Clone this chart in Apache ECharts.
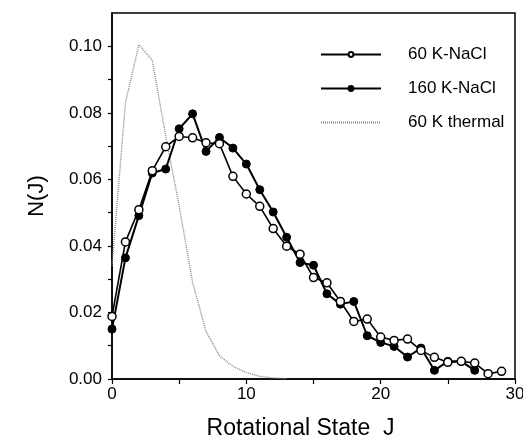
<!DOCTYPE html>
<html>
<head>
<meta charset="utf-8">
<script src="https://cdn.jsdelivr.net/npm/echarts@6/dist/echarts.min.js"></script>
<style>
    html, body {margin: 0; padding: 0; background: #fff;}
    #chart {width: 523px; height: 439px;}
</style>
</head>
<body>
<div id="chart"></div>
<script>
// N(J) values
var jNaCl60 = [0,1,2,3,4,5,6,7,8,9,10,11,12,13,14,15,16,17,18,19,20,21,22,23,24,25,26,27,28,29];
var nNaCl60 = [0.0188,0.0412,0.0509,0.0626,0.0698,0.0729,0.0725,0.0710,0.0707,0.0609,0.0556,0.0519,0.0452,0.0399,0.0375,
    0.0305,0.0289,0.0233,0.0173,0.0180,0.0126,0.0116,0.0120,0.0086,0.0065,0.0050,0.0053,0.0048,0.0016,0.0023];

var jNaCl160 = [0,1,2,3,4,5,6,7,8,9,10,11,12,13,14,15,16,17,18,19,20,21,22,23,24,25,26,27];
var nNaCl160 = [0.0150,0.0364,0.0491,0.0619,0.0631,0.0752,0.0797,0.0684,0.0726,0.0694,0.0646,0.0569,0.0502,0.0426,0.0350,
    0.0342,0.0256,0.0225,0.0233,0.0130,0.0110,0.0098,0.0066,0.0093,0.0026,0.0053,0.0053,0.0026];

var jThermal = [0,1,2,3,4,5,6,7,8,9,10,11,12,13];
var nThermal = [0.034,0.083,0.1005,0.0958,0.073,0.052,0.029,0.0143,0.0070,0.0038,0.0019,0.0008,0.0003,0.0001];

var yTicks = [0.00,0.02,0.04,0.06,0.08,0.10];

function pairs(xs, ys) {
    var out = [];
    for (var i = 0; i < xs.length; i++) {
        out.push([xs[i], ys[i]]);
    }
    return out;
}

var chart = echarts.init(document.getElementById('chart'));
var font = 'Liberation Sans';

var option = {
    backgroundColor: '#fff',
    animation: false,
    grid: {
        left: 112, right: 8, top: 13, bottom: 60,
        outerBoundsMode: 'none',
        show: true,
        borderColor: '#000',
        borderWidth: 1.5
    },
    legend: {
        orient: 'vertical',
        left: 315,
        top: 41,
        itemWidth: 60,
        itemHeight: 6,
        itemGap: 17,
        textStyle: {fontFamily: font, fontSize: 17, color: '#000', padding: [0, 0, 0, 22]},
        data: [
            '60 K-NaCl',
            '160 K-NaCl',
            {name: '60 K thermal', itemStyle: {opacity: 0}}
        ]
    },
    xAxis: {
        type: 'value',
        min: 0, max: 30, interval: 5,
        name: 'Rotational State  J',
        nameLocation: 'middle',
        nameGap: 38,
        nameTextStyle: {fontFamily: font, fontSize: 23, color: '#000', padding: [0, 26, 0, 0]},
        axisLine: {lineStyle: {color: '#000', width: 1.5}},
        axisTick: {length: 5, lineStyle: {color: '#000', width: 1.2}},
        axisLabel: {
            fontFamily: font, fontSize: 17, color: '#000', margin: 7,
            formatter: function (v) { return v % 10 === 0 ? String(v) : ''; }
        },
        splitLine: {show: false}
    },
    yAxis: {
        type: 'value',
        min: 0, max: 0.11, interval: 0.01,
        name: 'N(J)',
        nameLocation: 'middle',
        nameGap: 64,
        nameTextStyle: {fontFamily: font, fontSize: 22, color: '#000'},
        axisLine: {lineStyle: {color: '#000', width: 1.5}},
        axisTick: {length: 4, lineStyle: {color: '#000', width: 1.2}},
        axisLabel: {
            fontFamily: font, fontSize: 17, color: '#000', margin: 10,
            showMaxLabel: false,
            formatter: function (v) {
                for (var i = 0; i < yTicks.length; i++) {
                    if (Math.abs(v - yTicks[i]) < 1e-6) return yTicks[i].toFixed(2);
                }
                return '';
            }
        },
        splitLine: {show: false}
    },
    series: [
        {
            name: '60 K thermal',
            type: 'line',
            data: pairs(jThermal, nThermal),
            symbol: 'none',
            z: 1,
            lineStyle: {color: '#8a8a8a', width: 1.4, type: [1, 1]},
            itemStyle: {color: '#8a8a8a'}
        },
        {
            name: '160 K-NaCl',
            type: 'line',
            data: pairs(jNaCl160, nNaCl160),
            symbol: 'circle',
            symbolSize: 8,
            z: 2,
            lineStyle: {color: '#000', width: 2},
            itemStyle: {color: '#000', borderColor: '#000', borderWidth: 1}
        },
        {
            name: '60 K-NaCl',
            type: 'line',
            data: pairs(jNaCl60, nNaCl60),
            symbol: 'circle',
            symbolSize: 8,
            z: 3,
            lineStyle: {color: '#000', width: 1.6},
            itemStyle: {color: '#fff', borderColor: '#000', borderWidth: 1.5}
        }
    ]
};
chart.setOption(option);
</script>
</body>
</html>
